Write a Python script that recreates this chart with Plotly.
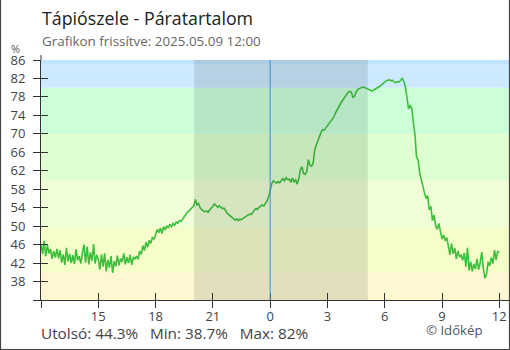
import pandas as pd
import plotly.graph_objects as go

# Relative humidity (%) every 5 minutes, 2025-05-08 12:00 -> 2025-05-09 12:00
humidity = [
    46.2, 44.0, 46.8, 43.5, 45.9, 44.1, 45.0, 42.9, 44.6, 43.2, 45.1, 43.0,  # 12h
    44.8, 42.1, 43.9, 41.6, 45.3, 42.4, 44.0, 42.0, 43.7, 41.8, 45.0, 42.6,  # 13h
    43.5, 41.9, 44.2, 46.0, 42.1, 45.6, 41.7, 44.3, 42.5, 46.1, 41.9, 43.8,  # 14h
    42.8, 40.6, 43.9, 41.2, 44.1, 40.2, 42.7, 41.0, 43.5, 39.9, 42.4, 41.3,  # 15h
    43.6, 41.5, 43.0, 42.2, 44.1, 41.7, 43.3, 42.0, 43.8, 41.6, 43.2, 42.9,  # 16h
    43.5, 42.8, 44.6, 43.9, 45.8, 44.7, 46.5, 45.4, 46.9, 46.3, 47.5, 47.2,  # 17h
    48.1, 49.3, 48.6, 49.6, 48.4, 49.9, 49.2, 50.1, 49.6, 50.4, 49.9, 50.6,  # 18h
    50.2, 50.9, 50.6, 51.2, 51.0, 51.5, 52.2, 52.6, 53.0, 53.3, 53.6, 54.0,  # 19h
    54.4, 55.8, 54.6, 54.9, 54.0, 53.6, 53.4, 53.1, 53.3, 53.0, 53.5, 53.8,  # 20h
    54.3, 54.8, 54.5, 54.1, 54.4, 54.0, 53.8, 53.9, 53.2, 52.8, 52.5, 52.1,  # 21h
    51.9, 51.6, 51.3, 51.6, 51.2, 51.5, 51.4, 51.7, 51.9, 52.2, 52.4, 52.6,  # 22h
    52.5, 52.9, 53.3, 53.8, 53.6, 54.1, 54.3, 54.6, 54.4, 54.8, 55.4, 56.3,  # 23h
    57.6, 59.2, 59.8, 59.6, 59.3, 59.7, 59.4, 59.9, 60.3, 59.8, 60.5, 60.1,  # 0h
    60.2, 59.5, 60.4, 59.6, 60.0, 59.1, 60.3, 62.2, 62.9, 61.4, 61.2, 61.8,  # 1h
    64.4, 63.2, 63.0, 63.6, 66.5, 67.6, 68.6, 69.4, 70.3, 70.9, 70.8, 71.3,  # 2h
    71.8, 72.2, 72.7, 73.2, 73.6, 74.5, 75.2, 75.9, 76.5, 77.0, 77.5, 78.1,  # 3h
    78.7, 79.0, 79.2, 79.1, 77.9, 78.1, 79.1, 79.6, 79.8, 80.0, 80.1, 80.1,  # 4h
    80.0, 79.8, 79.6, 79.4, 79.3, 79.5, 79.7, 79.8, 80.1, 80.3, 80.6, 80.9,  # 5h
    81.3, 81.5, 81.6, 81.7, 81.5, 81.6, 81.2, 81.1, 81.3, 81.2, 81.6, 82.0,  # 6h
    81.4, 80.2, 77.8, 75.4, 76.1, 75.6, 72.5, 69.8, 65.0, 64.3, 61.5, 59.8,  # 7h
    58.4, 57.2, 56.0, 56.6, 53.5, 54.3, 51.2, 52.4, 50.1, 49.3, 50.6, 48.4,  # 8h
    47.2, 48.1, 46.8, 47.5, 45.9, 43.8, 46.2, 44.0, 45.3, 42.9, 44.6, 43.4,  # 9h
    43.7, 42.6, 44.2, 41.2, 45.3, 40.4, 42.3, 40.2, 41.8, 40.7, 42.9, 40.6,  # 10h
    42.1, 44.4, 40.8, 38.7, 39.6, 42.3, 41.4, 43.2, 41.9, 44.8, 42.7, 44.6,  # 11h
    44.3,
]
times = pd.date_range("2025-05-08 12:00", periods=len(humidity), freq="5min")

# Background bands: (low, high, colour)
band_low = [34, 40, 50, 60, 70, 80, 85]
band_high = [40, 50, 60, 70, 80, 85, 86]
band_colors = ["#fff7d2", "#f5fdc8", "#effed6", "#e0ffd0", "#ccffd9", "#cce9ff", "#bfe2fd"]

night_start = "2025-05-08 20:01"
night_end = "2025-05-09 05:07"
midnight = "2025-05-09 00:00"

x_tickvals = pd.date_range("2025-05-08 12:00", periods=9, freq="3h")
x_ticktext = [""] + [str(t.hour) for t in x_tickvals[1:]]
y_tickvals = list(range(34, 87, 4))
y_ticktext = [""] + [str(v) for v in y_tickvals[1:]]

x_range = [pd.Timestamp("2025-05-08 12:00"), pd.Timestamp("2025-05-09 12:30:30")]
y_range = [34, 86]

FONT = "Open Sans"
W, H = 510, 350
ML, MR, MT, MB = 41, 1, 60, 50
PW, PH = W - ML - MR, H - MT - MB


def px(x):
    return (x - ML) / PW


def py(y):
    return (H - MB - y) / PH


fig = go.Figure()
fig.add_trace(go.Scatter(
    x=times, y=humidity, mode="lines",
    line=dict(color="#3dbf3d", width=1.6),
    hoverinfo="skip", showlegend=False,
))

shapes = []
for lo, hi, col in zip(band_low, band_high, band_colors):
    shapes.append(dict(type="rect", xref="paper", yref="y", x0=0, x1=1, y0=lo, y1=hi,
                       fillcolor=col, line_width=0, layer="below"))
shapes.append(dict(type="rect", xref="x", yref="paper", x0=night_start, x1=night_end,
                   y0=0, y1=1, fillcolor="rgba(40,60,50,0.13)", line_width=0, layer="above"))
shapes.append(dict(type="line", xref="x", yref="paper", x0=midnight, x1=midnight,
                   y0=0, y1=1, line=dict(color="#3a8fd0", width=1), layer="above"))
# y axis line extends a little above the plot
shapes.append(dict(type="line", xref="paper", yref="paper", x0=0, x1=0, y0=1, y1=py(55),
                   line=dict(color="#333", width=1)))
# frame around the figure (left, right, bottom)
for x0, y0, x1, y1 in [(0.5, 0, 0.5, 350), (509.5, 0, 509.5, 350), (0, 349.5, 510, 349.5)]:
    shapes.append(dict(type="line", xref="paper", yref="paper", x0=px(x0), x1=px(x1),
                       y0=py(y0), y1=py(y1), line=dict(color="#444", width=1.2)))

stats = (f"Utolsó: {humidity[-1]:g}%\u00a0\u00a0 Min: {min(humidity):g}%"
         f"\u00a0\u00a0 Max: {max(humidity):g}%")

annotations = [
    dict(text="Tápiószele - Páratartalom", x=px(40), y=py(18), xref="paper", yref="paper",
         xanchor="left", yanchor="middle", showarrow=False,
         font=dict(family=FONT, size=17.8, color="#222")),
    dict(text="Grafikon frissítve: 2025.05.09 12:00", x=px(40), y=py(41), xref="paper",
         yref="paper", xanchor="left", yanchor="middle", showarrow=False,
         font=dict(family=FONT, size=13.4, color="#666")),
    dict(text="%", x=px(15), y=py(49), xref="paper", yref="paper",
         xanchor="center", yanchor="middle", showarrow=False,
         font=dict(family=FONT, size=11, color="#555")),
    dict(text=stats, x=px(39), y=py(333), xref="paper", yref="paper",
         xanchor="left", yanchor="middle", showarrow=False,
         font=dict(family=FONT, size=15.3, color="#444")),
    dict(text="© Időkép", x=px(424), y=py(330), xref="paper", yref="paper",
         xanchor="left", yanchor="middle", showarrow=False,
         font=dict(family=FONT, size=13.2, color="#555")),
]

axis_common = dict(showgrid=False, zeroline=False, showline=True, linecolor="#333",
                   linewidth=1, tickcolor="#333", tickwidth=1, ticklen=7,
                   fixedrange=True)

fig.update_layout(
    width=W, height=H,
    margin=dict(l=ML, r=MR, t=MT, b=MB, pad=0),
    paper_bgcolor="white", plot_bgcolor="white",
    font=dict(family=FONT, color="#444"),
    shapes=shapes, annotations=annotations,
    xaxis=dict(range=x_range, tickvals=x_tickvals, ticktext=x_ticktext, ticks="outside",
               tickfont=dict(size=13, color="#444"), ticklabelstandoff=-3, **axis_common),
    yaxis=dict(range=y_range, tickvals=y_tickvals, ticktext=y_ticktext, ticks="outside",
               tickfont=dict(size=13, color="#444"), ticklabelstandoff=5, **axis_common),
    # inside halves of the crossing tick marks
    xaxis2=dict(range=x_range, tickvals=x_tickvals, ticks="inside", showticklabels=False,
                overlaying="x", anchor="y", **axis_common),
    yaxis2=dict(range=y_range, tickvals=y_tickvals, ticks="inside", showticklabels=False,
                overlaying="y", anchor="x", **axis_common),
)
# invisible trace so the secondary axes are drawn
fig.add_trace(go.Scatter(x=[times[0]], y=[humidity[0]], xaxis="x2", yaxis="y2",
                         mode="markers", marker=dict(opacity=0), hoverinfo="skip",
                         showlegend=False))

fig.write_html("out.html")
